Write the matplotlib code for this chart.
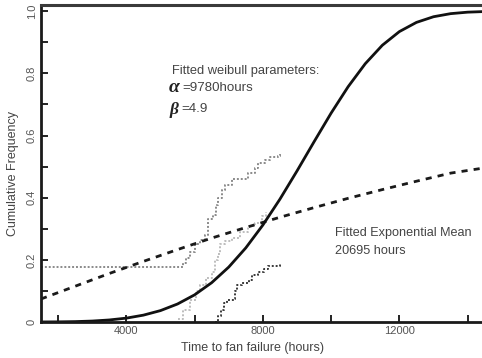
import matplotlib
matplotlib.use("Agg")
import matplotlib.pyplot as plt
from matplotlib.ticker import FixedLocator, NullFormatter

plt.rcParams['font.family'] = ['Liberation Sans', 'DejaVu Sans']

# Fitted Weibull curve (alpha=9780 h, beta=4.9), read values
weib_x = [1500, 2000, 2500, 3000, 3500, 4000, 4500, 5000, 5500, 6000, 6500, 7000,
          7500, 8000, 8500, 9000, 9500, 10000, 10500, 11000, 11500, 12000, 12500,
          13000, 13500, 14000, 14500]
weib_y = [0.0001, 0.0004, 0.0012, 0.0030, 0.0065, 0.0124, 0.0220, 0.0366, 0.0579,
          0.0873, 0.1264, 0.1766, 0.2384, 0.3119, 0.3952, 0.4859, 0.5799, 0.6722,
          0.7574, 0.8311, 0.8905, 0.9345, 0.9641, 0.9823, 0.9922, 0.9970, 0.9990]

# Fitted exponential (mean 20695 h)
expo_x = [1500, 2500, 3500, 4500, 5500, 6500, 7500, 8500, 9500, 10500, 11500, 12500,
          13500, 14500]
expo_y = [0.074, 0.115, 0.156, 0.195, 0.233, 0.270, 0.304, 0.337, 0.368, 0.398,
          0.426, 0.453, 0.479, 0.496]

# Empirical step series
emp_a_x = [1500, 5570, 5660, 5750, 5870, 6000, 6150, 6300, 6390, 6540, 6630, 6690,
           6800, 6890, 7090, 7470, 7560, 7770, 7860, 8070, 8210, 8450, 8510]
emp_a_y = [0.176, 0.176, 0.190, 0.205, 0.225, 0.250, 0.265, 0.280, 0.330, 0.345,
           0.375, 0.400, 0.425, 0.440, 0.460, 0.460, 0.480, 0.495, 0.510, 0.520,
           0.530, 0.535, 0.545]

emp_b_x = [5514, 5660, 5865, 6040, 6158, 6334, 6509, 6597, 6685, 6743, 6890, 7095,
           7330, 7563, 7768, 7973, 8090]
emp_b_y = [0.010, 0.040, 0.070, 0.100, 0.120, 0.140, 0.160, 0.200, 0.220, 0.250,
           0.260, 0.270, 0.290, 0.310, 0.320, 0.340, 0.355]

emp_c_x = [6590, 6680, 6770, 6850, 6940, 7150, 7180, 7240, 7390, 7590, 7680, 7860,
           8040, 8160, 8280, 8510]
emp_c_y = [0.000, 0.020, 0.040, 0.060, 0.070, 0.075, 0.100, 0.120, 0.125, 0.135,
           0.150, 0.160, 0.170, 0.180, 0.180, 0.185]

x_major = [4000, 8000, 12000]
x_minor = [2000, 6000, 10000, 14000]
y_major = [0.0, 0.2, 0.4, 0.6, 0.8, 1.0]
y_major_labels = ["0", "0.2", "0.4", "0.6", "0.8", "1.0"]
y_minor = [0.1, 0.3, 0.5, 0.7, 0.9]

fig = plt.figure(figsize=(4.82, 3.58), dpi=100)
ax = fig.add_axes([0.085, 0.1006, 0.915, 0.8854])

ax.step(emp_a_x, emp_a_y, where='post', color='#8a8a8a', lw=1.4, ls=(0, (1, 1)))
ax.step(emp_b_x, emp_b_y, where='post', color='#bdbdbd', lw=1.4, ls=(0, (1, 1)))
ax.step(emp_c_x, emp_c_y, where='post', color='#3a3a3a', lw=1.4, ls=(0, (1, 1)))

ax.plot(expo_x, expo_y, color='#1a1a1a', lw=2.0, dashes=(2.2, 2.2))
ax.plot(weib_x, weib_y, color='#111111', lw=2.0)

ax.set_xlim(1500, 14420)
ax.set_ylim(0, 1.02)

ax.xaxis.set_major_locator(FixedLocator(x_major))
ax.xaxis.set_minor_locator(FixedLocator(x_minor))
ax.xaxis.set_minor_formatter(NullFormatter())
ax.set_xticklabels([str(v) for v in x_major])
ax.yaxis.set_major_locator(FixedLocator(y_major))
ax.yaxis.set_minor_locator(FixedLocator(y_minor))
ax.set_yticklabels(y_major_labels, rotation=90, va='center')

ax.tick_params(which='both', direction='in', length=5, width=1.4, color='#222222',
               labelsize=8, labelcolor='#555555')
ax.tick_params(axis='y', which='both', pad=3)
ax.tick_params(axis='x', which='both', pad=3)

for s in ['left', 'bottom']:
    ax.spines[s].set_linewidth(2.0)
    ax.spines[s].set_color('#1a1a1a')
ax.spines['top'].set_linewidth(2.2)
ax.spines['top'].set_color('#3a3a3a')
ax.spines['right'].set_visible(False)

ax.set_xlabel("Time to fan failure (hours)", fontsize=9, color='#444444')
ax.set_ylabel("Cumulative Frequency", fontsize=9, color='#444444')
ax.xaxis.set_label_coords(0.48, -0.062)
ax.yaxis.set_label_coords(-0.05, 0.47)

ax.text(0.297, 0.792, "Fitted weibull parameters:", transform=ax.transAxes,
        fontsize=9.3, color='#444444', va='center')
ax.text(0.290, 0.741, "α", transform=ax.transAxes, fontsize=14,
        family='Liberation Serif', style='italic', weight='bold', color='#222222',
        va='center')
ax.text(0.320, 0.738, "=9780hours", transform=ax.transAxes, fontsize=9.6,
        color='#444444', va='center')
ax.text(0.291, 0.669, "β", transform=ax.transAxes, fontsize=12.5,
        family='Liberation Serif', style='italic', weight='bold', color='#222222',
        va='center')
ax.text(0.318, 0.672, "=4.9", transform=ax.transAxes, fontsize=9.6,
        color='#444444', va='center')

ax.text(0.667, 0.281, "Fitted Exponential Mean", transform=ax.transAxes,
        fontsize=9.1, color='#444444', va='center')
ax.text(0.667, 0.224, "20695 hours", transform=ax.transAxes,
        fontsize=9.1, color='#444444', va='center')

fig.savefig("out.png", dpi=100)
